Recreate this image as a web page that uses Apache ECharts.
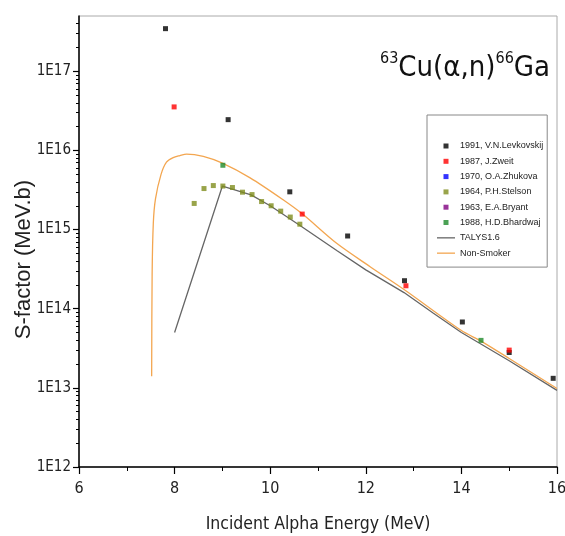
<!DOCTYPE html>
<html><head><meta charset="utf-8">
<script src="https://cdn.jsdelivr.net/npm/echarts@6/dist/echarts.min.js"></script>
<style>html,body{margin:0;padding:0;background:#fff}#c{width:565px;height:536px}</style>
</head><body><div id="c"></div>
<script>
// ---- data ----
const levkovskijE = [7.81, 9.12, 10.41, 11.62, 12.81, 14.02, 15.0, 15.92];
const levkovskijS = [3.46e17, 2.45e16, 3.0e15, 8.3e14, 2.26e14, 6.8e13, 2.8e13, 1.32e13];
const zweitE = [7.99, 10.67, 12.84, 15.0];
const zweitS = [3.55e16, 1.57e15, 1.95e14, 3.0e13];
const zhukovaE = [];
const zhukovaS = [];
const stelsonE = [8.41, 8.615, 8.81, 9.01, 9.21, 9.42, 9.62, 9.82, 10.02, 10.22, 10.42, 10.62];
const stelsonS = [2.14e15, 3.3e15, 3.6e15, 3.55e15, 3.4e15, 2.97e15, 2.77e15, 2.26e15, 2.0e15, 1.71e15, 1.44e15, 1.17e15];
const bryantE = [];
const bryantS = [];
const bhardwajE = [9.01, 14.41];
const bhardwajS = [6.5e15, 3.98e13];
const talysE = [8.0, 9.0, 9.6, 10.0, 10.6, 11.4, 12.0, 12.8, 13.4, 14.0, 15.0, 16.0];
const talysS = [5.0e13, 3.55e15, 2.75e15, 2.0e15, 1.15e15, 5.4e14, 3.1e14, 1.6e14, 8.9e13, 5.0e13, 2.2e13, 9.3e12];
const nonSmokerE = [7.52, 7.53, 7.555, 7.60, 7.715, 7.83, 7.97, 8.11, 8.25, 8.60, 9.0, 9.58, 10.27, 10.67, 11.39, 12.09, 12.8, 14.0, 14.41, 15.0, 16.0];
const nonSmokerS = [1.4e13, 2.7e14, 1.22e15, 2.45e15, 4.95e15, 7.1e15, 8.1e15, 8.6e15, 9.0e15, 8.4e15, 6.9e15, 4.5e15, 2.38e15, 1.58e15, 6.7e14, 3.4e14, 1.75e14, 5.3e13, 3.9e13, 2.35e13, 9.8e12];

const seriesNames = ['1991, V.N.Levkovskij', '1987, J.Zweit', '1970, O.A.Zhukova', '1964, P.H.Stelson', '1963, E.A.Bryant', '1988, H.D.Bhardwaj', 'TALYS1.6', 'Non-Smoker'];
const xTickLabels = ['6', '8', '10', '12', '14', '16'];
const yTickValues = [1e12, 1e13, 1e14, 1e15, 1e16, 1e17];
const yTickLabels = ['1E12', '1E13', '1E14', '1E15', '1E16', '1E17'];
const yMinorMultipliers = [2, 3, 4, 5, 6, 7, 8, 9];

// ---- build ----
const yMax = 5e17;
const yMinorTickValues = [];
yTickValues.forEach(d => yMinorMultipliers.forEach(m => { if (d * m <= yMax) yMinorTickValues.push(d * m); }));
const pairs = (xs, ys) => xs.map((x, i) => [x, ys[i]]);
const FC = "'DejaVu Sans Condensed', 'Liberation Sans', sans-serif";
const FS = "'Liberation Sans', Arial, sans-serif";
const sqIcon = 'path://M0,0h0M18,10h0M6.5,2.5h5v5h-5z';
const lnIcon = 'path://M0,0h0M18,10h0M0,4.4h18v1.3h-18z';

const scatter = (name, xs, ys, color) => ({
  name, type: 'scatter', data: pairs(xs, ys), symbol: 'rect', symbolSize: 5,
  itemStyle: { color }, z: 5, animation: false
});
const line = (name, xs, ys, color, w, smooth) => ({
  name, type: 'line', data: pairs(xs, ys), symbol: 'none', showSymbol: false,
  smooth, lineStyle: { color, width: w }, itemStyle: { color }, z: 2, animation: false
});

const chart = echarts.init(document.getElementById('c'));
chart.setOption({
  animation: false,
  backgroundColor: '#fff',
  title: {
    text: '{s|63}{b|Cu(α,n)}{s|66}{b|Ga}',
    right: 10, top: 46,
    textStyle: {
      fontWeight: 'normal',
      rich: {
        s: { fontFamily: FC, fontSize: 16, lineHeight: 16, verticalAlign: 'top', color: '#111', fontWeight: 'normal' },
        b: { fontFamily: FC, fontSize: 29, lineHeight: 34, color: '#111', fontWeight: 'normal' }
      }
    }
  },
  legend: {
    orient: 'vertical', left: 427, top: 115,
    padding: [26, 4, 9, 10],
    itemWidth: 18, itemHeight: 10, itemGap: 5.3,
    borderColor: '#888', borderWidth: 1,
    textStyle: { fontFamily: FS, fontSize: 9, lineHeight: 10, color: '#222' },
    data: seriesNames.map((n, i) => ({ name: n, icon: i < 6 ? sqIcon : lnIcon }))
  },
  grid: { left: 79, right: 8, top: 16, bottom: 69, show: true, borderColor: '#aaa', borderWidth: 1, outerBoundsMode: 'none', containLabel: false },
  xAxis: {
    type: 'value', min: 6, max: 16, interval: 2,
    name: 'Incident Alpha Energy (MeV)', nameLocation: 'middle', nameGap: 48, nameMoveOverlap: false,
    nameTextStyle: { fontFamily: FC, fontSize: 17.5, color: '#222' },
    axisLine: { show: true, lineStyle: { color: '#000', width: 1.5 } },
    axisTick: { show: true, inside: false, length: 7, lineStyle: { color: '#000', width: 1.2 } },
    minorTick: { show: true, splitNumber: 2, length: 4, lineStyle: { color: '#000', width: 1 } },
    axisLabel: { margin: 14, fontFamily: FC, fontSize: 16, color: '#222',
      formatter: v => xTickLabels[xTickLabels.indexOf(String(v))] || '' },
    splitLine: { show: false }, minorSplitLine: { show: false }
  },
  yAxis: [{
    type: 'log', logBase: 10, min: 1e12, max: yMax,
    name: 'S-factor (MeV.b)', nameLocation: 'middle', nameGap: 44, nameRotate: 90, nameMoveOverlap: false,
    nameTextStyle: { fontFamily: FS, fontSize: 22, color: '#222', padding: [0, 36, 0, 0] },
    axisLine: { show: true, lineStyle: { color: '#000', width: 1.5 } },
    axisTick: { show: true, inside: false, length: 6, customValues: yTickValues, lineStyle: { color: '#000', width: 1.2 } },
    axisLabel: { customValues: yTickValues, margin: 8, fontFamily: FC, fontSize: 15, color: '#222',
      formatter: v => yTickLabels[Math.round(Math.log10(v)) - 12] || '' },
    splitLine: { show: false }
  }, {
    type: 'log', logBase: 10, min: 1e12, max: yMax, position: 'left', offset: 0,
    axisLine: { show: false },
    axisTick: { show: true, inside: false, length: 3, customValues: yMinorTickValues, lineStyle: { color: '#000', width: 1 } },
    axisLabel: { show: false }, splitLine: { show: false }
  }],
  series: [
    scatter(seriesNames[0], levkovskijE, levkovskijS, '#000000'),
    scatter(seriesNames[1], zweitE, zweitS, '#ff0000'),
    scatter(seriesNames[2], zhukovaE, zhukovaS, '#0000ff'),
    scatter(seriesNames[3], stelsonE, stelsonS, '#7f8d1d'),
    scatter(seriesNames[4], bryantE, bryantS, '#800080'),
    scatter(seriesNames[5], bhardwajE, bhardwajS, '#1e8a2a'),
    line(seriesNames[6], talysE, talysS, '#666666', 1.3, false),
    line(seriesNames[7], nonSmokerE, nonSmokerS, '#f3a650', 1.3, 0.3)
  ]
});
</script>
</body></html>
